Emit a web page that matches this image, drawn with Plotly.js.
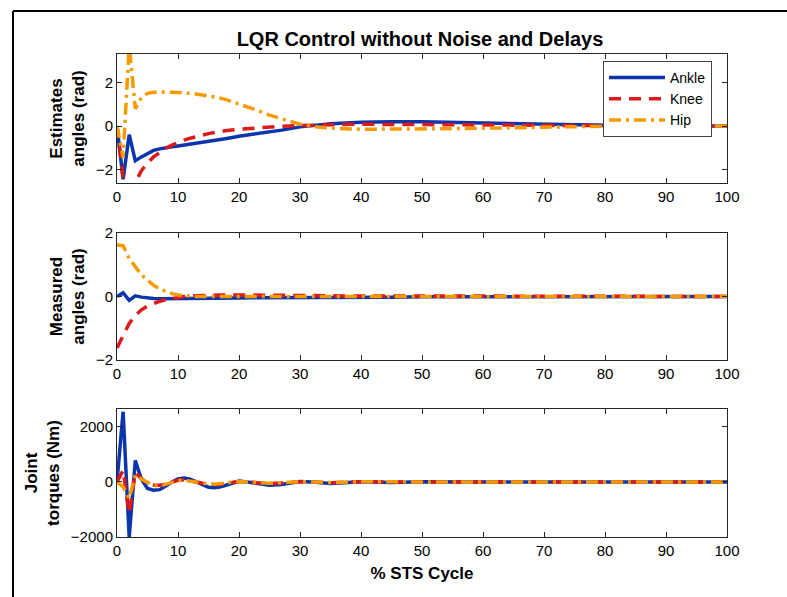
<!DOCTYPE html>
<html>
<head>
<meta charset="utf-8">
<script src="https://cdn.plot.ly/plotly-3.0.1.min.js"></script>
<style>
  html, body { margin: 0; padding: 0; background: #fff; }
  #chart { width: 787px; height: 597px; }
</style>
</head>
<body>
<div id="chart"></div>
<script>
// ---- data ----
const pct = [0,1,2,3,4,5,6,7,8,9,10,11,12,13,14,15,16,17,18,20,22,23,25,27,30,32,35,40,45,50,55,60,65,70,75,80,85,90,95,100];

const estAnkle = [0,-2.45,-0.4,-1.6,-1.42,-1.25,-1.12,-1.05,-0.99,-0.95,-0.92,-0.88,-0.84,-0.8,-0.76,-0.72,-0.67,-0.62,-0.57,-0.47,-0.4,-0.36,-0.28,-0.19,-0.04,0.03,0.1,0.17,0.2,0.19,0.16,0.12,0.09,0.06,0.04,0.02,0.01,0.005,0,0];
const estKnee  = [0,-2.4,-3.4,-2.6,-2.05,-1.7,-1.42,-1.2,-1.02,-0.88,-0.75,-0.65,-0.56,-0.48,-0.41,-0.35,-0.3,-0.25,-0.21,-0.15,-0.1,-0.08,-0.04,-0.01,0.02,0.04,0.06,0.08,0.08,0.08,0.07,0.06,0.04,0.03,0.02,0.01,0.005,0,0,0];
const estHip   = [0,-1.45,3.7,0.8,1.3,1.5,1.55,1.57,1.56,1.55,1.54,1.52,1.5,1.47,1.43,1.39,1.34,1.28,1.2,1.02,0.82,0.72,0.5,0.32,0.08,-0.02,-0.1,-0.15,-0.15,-0.14,-0.12,-0.1,-0.07,-0.05,-0.03,-0.01,0,0,0,0];

const measAnkle = [0,0.12,-0.12,0.02,-0.02,-0.05,-0.06,-0.07,-0.07,-0.07,-0.07,-0.06,-0.06,-0.06,-0.06,-0.05,-0.05,-0.05,-0.05,-0.05,-0.04,-0.04,-0.04,-0.04,-0.03,-0.03,-0.03,-0.02,-0.02,-0.01,-0.01,0,0,0,0,0,0,0,0,0];
const measKnee  = [-1.62,-1.25,-0.85,-0.6,-0.42,-0.3,-0.22,-0.15,-0.1,-0.06,-0.03,0,0.02,0.03,0.04,0.04,0.05,0.05,0.05,0.05,0.05,0.05,0.04,0.04,0.03,0.03,0.02,0.02,0.01,0.01,0.01,0,0,0,0,0,0,0,0,0];
const measHip   = [1.62,1.6,1.2,0.92,0.68,0.52,0.35,0.24,0.15,0.09,0.05,0.03,0.01,0,0,0,0.01,0.01,0.01,0.01,0.01,0.01,0.01,0.01,0.01,0.01,0.01,0.01,0.01,0.01,0,0,0,0,0,0,0,0,0,0];

const torqAnkle = [0,2550,-2000,780,100,-240,-300,-280,-150,0,110,145,100,0,-110,-190,-210,-180,-110,30,-20,-60,-120,-90,20,0,-60,10,-20,5,-5,0,0,0,0,0,0,0,0,0];
const torqKnee  = [0,420,-1150,340,120,-40,-110,-120,-70,0,60,80,50,0,-50,-90,-100,-80,-50,20,-10,-30,-60,-40,10,0,-30,5,-10,0,0,0,0,0,0,0,0,0,0,0];
const torqHip   = [0,-180,-600,250,100,-20,-130,-150,-90,-10,50,60,40,0,-40,-70,-80,-60,-40,20,-10,-25,-50,-30,10,0,-20,5,-5,0,0,0,0,0,0,0,0,0,0,0];

const seriesNames = ['Ankle','Knee','Hip'];
const xTicks = [0,10,20,30,40,50,60,70,80,90,100];

// ---- styles ----
const W = 787, H = 597;
const colors = ['#0a35ad','#dd1a1a','#f59a00'];
const dashes = ['solid','12px,8px','12px,5px,3px,5px'];
const FONT = 'Arial, "Liberation Sans", sans-serif';

function px2x(p){ return p / W; }
function py2y(p){ return 1 - p / H; }

const panels = [
  {ys:[estAnkle, estKnee, estHip], top:54, bot:183, range:[-2.62,3.31], tickvals:[-2,0,2], title:'Estimates<br>angles (rad)'},
  {ys:[measAnkle, measKnee, measHip], top:233, bot:360, range:[-2,2], tickvals:[-2,0,2], title:'Measured<br>angles (rad)'},
  {ys:[torqAnkle, torqKnee, torqHip], top:409, bot:537, range:[-2000,2650], tickvals:[-2000,0,2000], title:'Joint<br>torques (Nm)'}
];

const data = [];
const layout = {
  width: W, height: H,
  margin: {l:0, r:0, t:0, b:0},
  paper_bgcolor: '#fff', plot_bgcolor: '#fff',
  font: {family: FONT, color: '#000'},
  title: {text: 'LQR Control without Noise and Delays', x: px2x(420), xanchor: 'center', y: py2y(39), yanchor: 'middle',
          font: {family: FONT, size: 20, weight: 'bold', color: '#000'}},
  showlegend: true,
  legend: {x: px2x(603), y: py2y(61), xanchor: 'left', yanchor: 'top', bgcolor: '#fff', bordercolor: '#444', borderwidth: 1,
           font: {family: FONT, size: 14, color: '#000'}, tracegroupgap: 0, itemwidth: 56},
  shapes: [
    {type:'line', xref:'paper', yref:'paper', x0: px2x(13), x1: 1.01, y0: py2y(11), y1: py2y(11), line:{color:'#000', width:2}},
    {type:'line', xref:'paper', yref:'paper', x0: px2x(13), x1: px2x(13), y0: py2y(11), y1: -0.01, line:{color:'#000', width:2}}
  ]
};

const axisCommon = {
  showline: true, linecolor: '#262626', linewidth: 1, mirror: 'ticks',
  ticks: 'inside', ticklen: 5, tickcolor: '#262626', tickwidth: 1,
  zeroline: false, showgrid: false,
  tickfont: {family: FONT, size: 15, color: '#000'}
};

panels.forEach((p, i) => {
  const n = i + 1;
  const xa = 'x' + (n === 1 ? '' : n), ya = 'y' + (n === 1 ? '' : n);
  p.ys.forEach((vals, k) => {
    data.push({
      x: pct, y: vals, xaxis: xa, yaxis: ya, type: 'scatter', mode: 'lines',
      name: seriesNames[k], showlegend: i === 0, cliponaxis: true,
      line: {color: colors[k], width: 3.5, dash: dashes[k]}
    });
  });
  const xKey = 'xaxis' + (n === 1 ? '' : n), yKey = 'yaxis' + (n === 1 ? '' : n);
  layout[xKey] = Object.assign({}, axisCommon, {
    domain: [px2x(117), px2x(727)], range: [0,100], tickvals: xTicks, anchor: ya
  });
  if (n === 3) {
    layout[xKey].title = {text: '% STS Cycle', standoff: 9, font: {family: FONT, size: 17, weight: 'bold', color: '#000'}};
  }
  layout[yKey] = Object.assign({}, axisCommon, {
    domain: [py2y(p.bot), py2y(p.top)], range: p.range, tickvals: p.tickvals, anchor: xa,
    title: {text: p.title, standoff: 6, font: {family: FONT, size: 17, weight: 'bold', color: '#000'}}
  });
});

Plotly.newPlot('chart', data, layout, {displayModeBar: false, staticPlot: true});
</script>
</body>
</html>
